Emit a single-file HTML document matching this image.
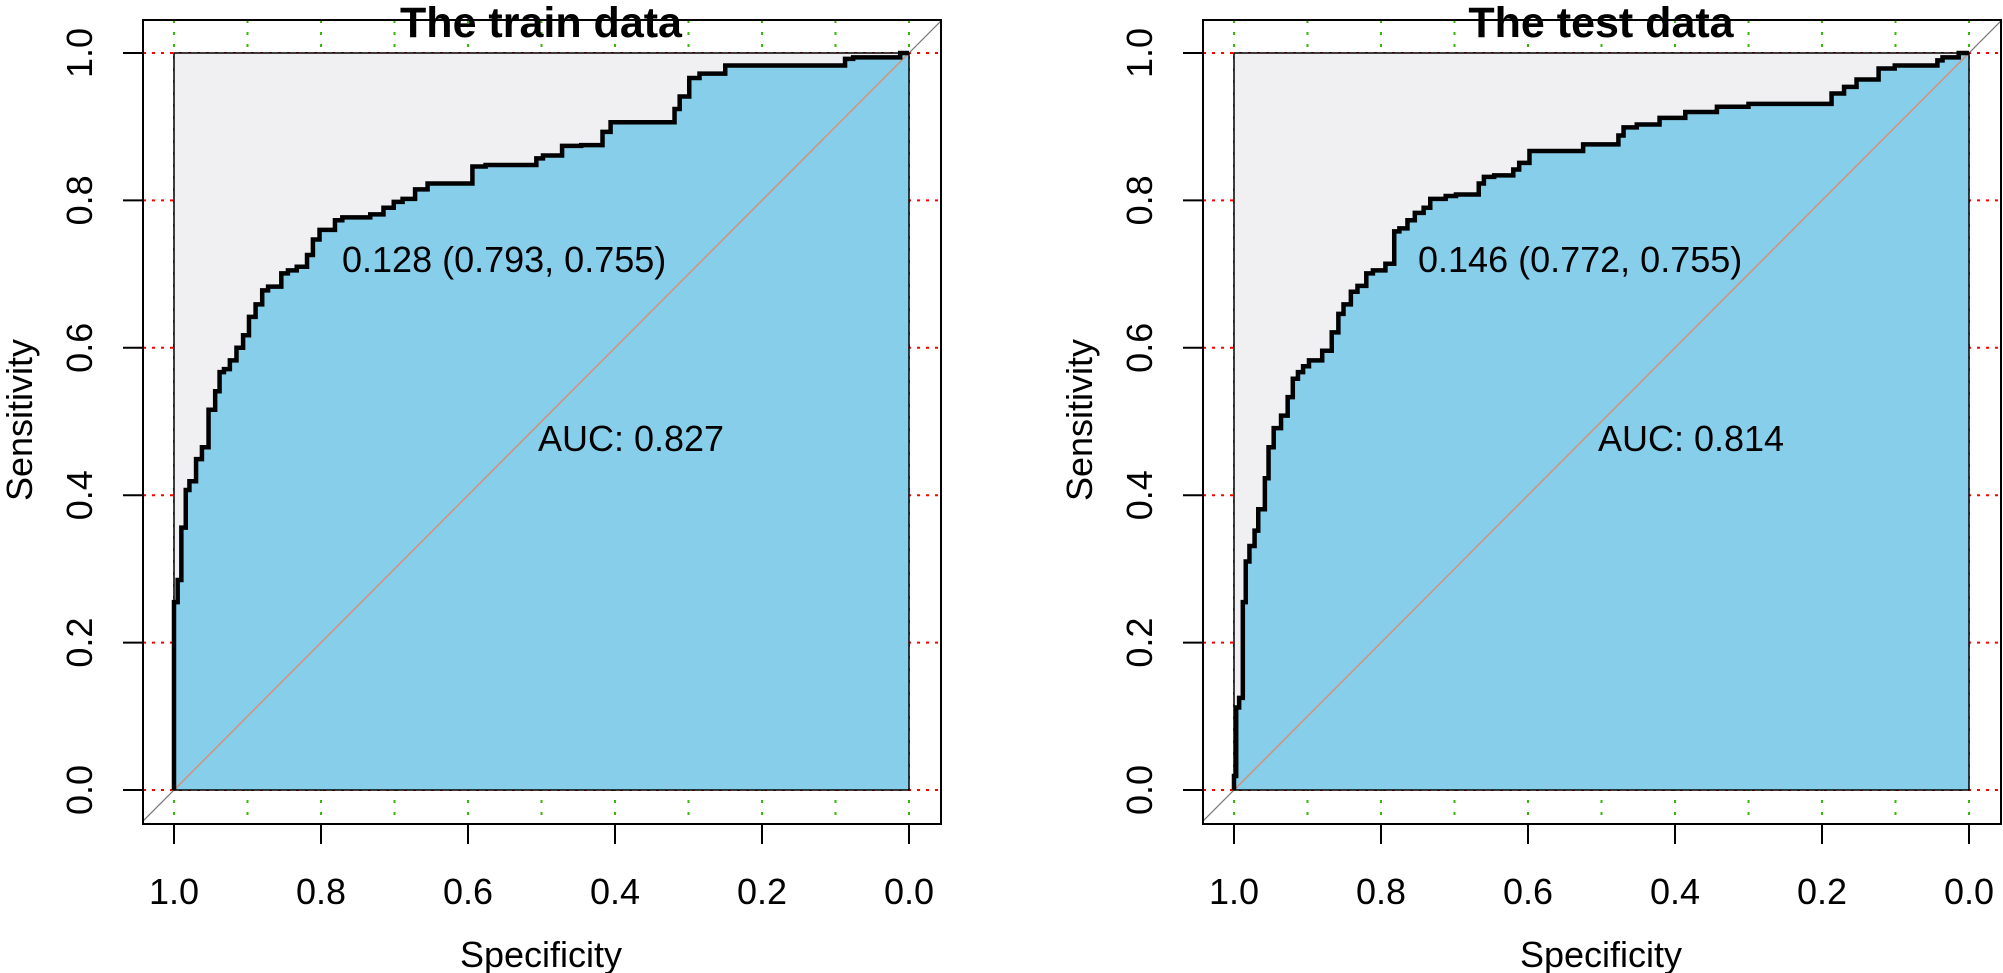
<!DOCTYPE html>
<html><head><meta charset="utf-8"><style>
html,body{margin:0;padding:0;background:#fff;}
svg{display:block;font-family:"Liberation Sans",Arial,sans-serif;}
</style></head><body>
<svg id="chart" width="2003" height="973" viewBox="0 0 2003 973" xmlns="http://www.w3.org/2000/svg"></svg>
<script>
const trainSpec=[1,1,0.995,0.99,0.984,0.979,0.97,0.962,0.953,0.944,0.938,0.932,0.924,0.915,0.906,0.898,0.889,0.88,0.872,0.854,0.845,0.833,0.819,0.811,0.802,0.793,0.781,0.771,0.733,0.715,0.701,0.689,0.672,0.655,0.637,0.594,0.576,0.507,0.498,0.472,0.446,0.417,0.406,0.391,0.319,0.312,0.299,0.285,0.25,0.233,0.087,0.076,0.012,0.003,0];
const trainSens=[0,0.078,0.255,0.285,0.356,0.407,0.419,0.449,0.465,0.516,0.541,0.567,0.571,0.583,0.6,0.617,0.642,0.659,0.678,0.683,0.701,0.705,0.71,0.726,0.747,0.76,0.76,0.773,0.777,0.781,0.79,0.798,0.802,0.815,0.823,0.823,0.846,0.848,0.857,0.861,0.874,0.875,0.893,0.906,0.906,0.924,0.941,0.966,0.972,0.983,0.983,0.992,0.994,1,1];
const testSpec=[1,0.997,0.993,0.988,0.984,0.979,0.972,0.967,0.958,0.953,0.946,0.936,0.927,0.92,0.913,0.906,0.898,0.88,0.867,0.858,0.851,0.841,0.832,0.82,0.811,0.794,0.782,0.775,0.764,0.754,0.742,0.733,0.712,0.698,0.667,0.66,0.646,0.62,0.612,0.598,0.588,0.525,0.516,0.477,0.47,0.452,0.421,0.386,0.343,0.3,0.257,0.187,0.17,0.153,0.123,0.101,0.092,0.043,0.036,0.014,0.005,0];
const testSens=[0,0.019,0.112,0.125,0.255,0.31,0.331,0.352,0.381,0.423,0.465,0.491,0.508,0.533,0.558,0.567,0.575,0.583,0.596,0.621,0.646,0.659,0.676,0.684,0.701,0.705,0.714,0.758,0.762,0.773,0.783,0.79,0.802,0.806,0.808,0.823,0.832,0.834,0.842,0.851,0.867,0.867,0.876,0.876,0.888,0.899,0.903,0.912,0.92,0.927,0.931,0.931,0.945,0.954,0.964,0.979,0.983,0.983,0.99,0.994,1,1];
const xTicks=[1.0,0.8,0.6,0.4,0.2,0.0];
const xTickLabels=["1.0","0.8","0.6","0.4","0.2","0.0"];
const yTicks=[0.0,0.2,0.4,0.6,0.8,1.0];
const yTickLabels=["0.0","0.2","0.4","0.6","0.8","1.0"];
const gridX=[1.0,0.9,0.8,0.7,0.6,0.5,0.4,0.3,0.2,0.1,0.0];
const trainLabels=["The train data","0.128 (0.793, 0.755)","AUC: 0.827"];
const testLabels=["The test data","0.146 (0.772, 0.755)","AUC: 0.814"];
const svg=document.getElementById('chart');
const NS='http://www.w3.org/2000/svg';
function mk(tag,attrs,parent){const e=document.createElementNS(NS,tag);for(const k in attrs)e.setAttribute(k,attrs[k]);parent.appendChild(e);return e;}
function panel(name,ox,spec,sens,labels,threshPos,aucPos){
  const g=mk('g',{},svg);
  
  
  const L=ox+174,R=ox+909,T=53,B=790,OL=ox+143,OR=ox+941,OT=20,OB=824;
  const X=s=>L+(1-s)*(R-L), Y=v=>B-v*(B-T);
  gridX.forEach(v=>{const l=mk('line',{x1:X(v),x2:X(v),y1:OT,y2:OB,stroke:'#33bb00','stroke-width':2,'stroke-dasharray':'3 9'},g);
    
    });
  yTicks.forEach(v=>{const l=mk('line',{x1:OL,x2:OR,y1:Y(v),y2:Y(v),stroke:'#ff0000','stroke-width':2,'stroke-dasharray':'3 6'},g);
    
    });
  const bg=mk('rect',{x:L,y:T,width:R-L,height:B-T,fill:'#f0f0f2'},g);
  
  
  let pts=[];
  for(let i=0;i<spec.length;i++){ if(i>0) pts.push(X(spec[i-1])+','+Y(sens[i])); pts.push(X(spec[i])+','+Y(sens[i])); }
  const poly=mk('polygon',{points:pts.join(' ')+' '+X(0)+','+Y(0)+' '+X(1)+','+Y(0),fill:'#87ceeb'},g);
  
  
  const d1=mk('line',{x1:X(1.042),y1:Y(-0.042),x2:X(-0.0435),y2:Y(1.0435),stroke:'#777','stroke-width':1.2},g);
  
  
  const d2=mk('line',{x1:X(1),y1:Y(0),x2:X(0),y2:Y(1),stroke:'#d49480','stroke-width':1.5},g);
  
  
  const ib=mk('rect',{x:L,y:T,width:R-L,height:B-T,fill:'none',stroke:'#000','stroke-width':1.5},g);
  
  
  const curve=mk('polyline',{points:pts.join(' '),fill:'none',stroke:'#000','stroke-width':4.5,'stroke-linejoin':'miter'},g);
  
  
  const ob=mk('rect',{x:OL,y:OT,width:OR-OL,height:OB-OT,fill:'none',stroke:'#000','stroke-width':2},g);
  
  
  xTicks.forEach((v,i)=>{const t=mk('line',{x1:X(v),x2:X(v),y1:OB,y2:OB+20,stroke:'#000','stroke-width':2},g);
    
    
    const tx=mk('text',{x:X(v),y:904,'font-size':36,'text-anchor':'middle'},g);tx.textContent=xTickLabels[i];
    
    });
  yTicks.forEach((v,i)=>{const t=mk('line',{x1:OL-20,x2:OL,y1:Y(v),y2:Y(v),stroke:'#000','stroke-width':2},g);
    
    
    const tx=mk('text',{x:0,y:0,'font-size':36,'text-anchor':'middle',transform:`translate(${ox+92},${Y(v)}) rotate(-90)`},g);tx.textContent=yTickLabels[i];
    
    });
  const ti=mk('text',{x:ox+541,y:37,'font-size':43,'font-weight':'bold','text-anchor':'middle'},g);ti.textContent=labels[0];
  
  
  const th=mk('text',{x:threshPos,y:272,'font-size':36},g);th.textContent=labels[1];
  
  
  const au=mk('text',{x:aucPos,y:451,'font-size':36,'text-anchor':'middle'},g);au.textContent=labels[2];
  
  
  const xl=mk('text',{x:ox+541,y:967,'font-size':36,'text-anchor':'middle'},g);xl.textContent='Specificity';
  
  
  const yl=mk('text',{x:0,y:0,'font-size':36,'text-anchor':'middle',transform:`translate(${ox+32},420) rotate(-90)`},g);yl.textContent='Sensitivity';
  
  
}
panel('train-roc-panel',0,trainSpec,trainSens,trainLabels,342,631);
panel('test-roc-panel',1060,testSpec,testSens,testLabels,1418,1691);
</script>
</body></html>
